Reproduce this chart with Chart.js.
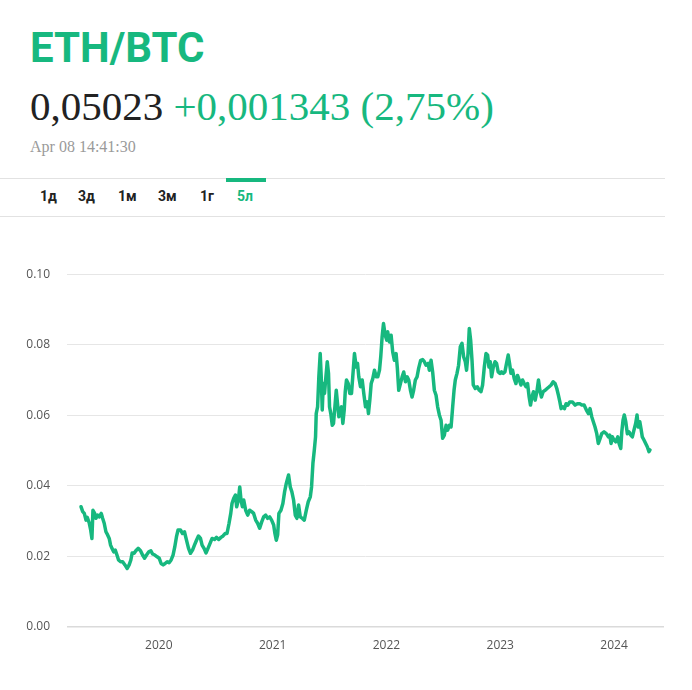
<!DOCTYPE html>
<html>
<head>
<meta charset="utf-8">
<script src="https://cdn.jsdelivr.net/npm/chart.js@4"></script>
<style>
  body { margin: 0; background: #fff; width: 692px; height: 690px; position: relative; overflow: hidden; }
  .abs { position: absolute; white-space: nowrap; }
  #title { left: 30px; top: 27px; font: bold 42px/42px Roboto, sans-serif; color: #17b87f; }
  #price { left: 30px; top: 86px; font: 41px/41px "Liberation Serif", serif; color: #222; }
  #price .chg { color: #17b87f; }
  #stamp { left: 30px; top: 139px; font: 16px/16px "Liberation Serif", serif; color: #9a9a9a; }
  .rule { position: absolute; left: 0; width: 665px; height: 1px; background: #e2e2e2; }
  .tab { position: absolute; top: 188px; font: bold 14px/16px Roboto, sans-serif; color: #222; }
  .tab.on { color: #17b87f; }
  #tabbar { position: absolute; left: 226px; top: 178px; width: 40px; height: 4px; background: #17b87f; }
  #wrap { position: absolute; left: 0; top: 250px; width: 692px; height: 420px; }
</style>
</head>
<body>
<div id="title" class="abs">ETH/BTC</div>
<div id="price" class="abs">0,05023 <span class="chg">+0,001343 (2,75%)</span></div>
<div id="stamp" class="abs">Apr 08 14:41:30</div>
<div class="rule" style="top:178px"></div>
<div class="rule" style="top:216px"></div>
<div id="tabbar"></div>
<span class="tab" style="left:40px">1д</span>
<span class="tab" style="left:78px">3д</span>
<span class="tab" style="left:118px">1м</span>
<span class="tab" style="left:158px">3м</span>
<span class="tab" style="left:200px">1г</span>
<span class="tab on" style="left:237px">5л</span>
<div id="wrap"><canvas id="chart" width="692" height="420"></canvas></div>
<script>
// ETH/BTC ratio over five years.
// times are decimal years, ratios are the ETH price in BTC at that moment.
const times = [
  2019.316, 2019.331, 2019.345, 2019.360, 2019.371, 2019.389, 2019.401, 2019.412, 2019.421, 2019.436,
  2019.447, 2019.462, 2019.476, 2019.494, 2019.506, 2019.520, 2019.535, 2019.550, 2019.564, 2019.576,
  2019.588, 2019.603, 2019.617, 2019.632, 2019.646, 2019.664, 2019.682, 2019.702, 2019.722, 2019.739,
  2019.754, 2019.766, 2019.783, 2019.798, 2019.818, 2019.839, 2019.857, 2019.875, 2019.892, 2019.912,
  2019.930, 2019.945, 2019.965, 2019.985, 2020.003, 2020.020, 2020.038, 2020.055, 2020.073, 2020.090,
  2020.108, 2020.125, 2020.140, 2020.155, 2020.169, 2020.190, 2020.208, 2020.225, 2020.243, 2020.261,
  2020.278, 2020.296, 2020.313, 2020.331, 2020.348, 2020.366, 2020.380, 2020.397, 2020.415, 2020.432,
  2020.450, 2020.468, 2020.489, 2020.506, 2020.526, 2020.546, 2020.564, 2020.582, 2020.599, 2020.617,
  2020.632, 2020.643, 2020.658, 2020.673, 2020.684, 2020.699, 2020.711, 2020.722, 2020.734, 2020.746,
  2020.763, 2020.781, 2020.798, 2020.816, 2020.833, 2020.851, 2020.868, 2020.886, 2020.904, 2020.921,
  2020.939, 2020.956, 2020.974, 2020.991, 2021.009, 2021.020, 2021.032, 2021.044, 2021.055, 2021.073,
  2021.090, 2021.105, 2021.120, 2021.140, 2021.155, 2021.169, 2021.184, 2021.199, 2021.213, 2021.228,
  2021.243, 2021.261, 2021.278, 2021.296, 2021.313, 2021.331, 2021.342, 2021.354, 2021.366, 2021.377,
  2021.383, 2021.395, 2021.406, 2021.418, 2021.427, 2021.436, 2021.445, 2021.456, 2021.468, 2021.480,
  2021.491, 2021.500, 2021.511, 2021.524, 2021.535, 2021.547, 2021.559, 2021.570, 2021.582, 2021.594,
  2021.605, 2021.617, 2021.629, 2021.638, 2021.649, 2021.664, 2021.678, 2021.693, 2021.704, 2021.719,
  2021.734, 2021.746, 2021.757, 2021.772, 2021.787, 2021.801, 2021.816, 2021.831, 2021.842, 2021.854,
  2021.866, 2021.880, 2021.895, 2021.910, 2021.924, 2021.939, 2021.950, 2021.962, 2021.974, 2021.989,
  2022.003, 2022.011, 2022.026, 2022.041, 2022.055, 2022.070, 2022.085, 2022.096, 2022.108, 2022.123,
  2022.138, 2022.152, 2022.167, 2022.182, 2022.196, 2022.211, 2022.225, 2022.239, 2022.254, 2022.269,
  2022.283, 2022.301, 2022.318, 2022.333, 2022.348, 2022.366, 2022.377, 2022.392, 2022.406, 2022.421,
  2022.436, 2022.450, 2022.465, 2022.480, 2022.494, 2022.509, 2022.524, 2022.538, 2022.553, 2022.568,
  2022.582, 2022.594, 2022.605, 2022.620, 2022.634, 2022.649, 2022.664, 2022.678, 2022.693, 2022.704,
  2022.717, 2022.728, 2022.740, 2022.752, 2022.763, 2022.781, 2022.798, 2022.816, 2022.831, 2022.845,
  2022.860, 2022.875, 2022.889, 2022.901, 2022.912, 2022.924, 2022.939, 2022.954, 2022.968, 2022.982,
  2022.997, 2023.011, 2023.026, 2023.041, 2023.055, 2023.070, 2023.082, 2023.094, 2023.108, 2023.123,
  2023.138, 2023.152, 2023.167, 2023.182, 2023.196, 2023.211, 2023.226, 2023.240, 2023.254, 2023.266,
  2023.278, 2023.292, 2023.307, 2023.322, 2023.336, 2023.348, 2023.362, 2023.377, 2023.395, 2023.412,
  2023.430, 2023.447, 2023.465, 2023.482, 2023.497, 2023.511, 2023.524, 2023.535, 2023.550, 2023.564,
  2023.579, 2023.594, 2023.611, 2023.634, 2023.658, 2023.678, 2023.699, 2023.717, 2023.737, 2023.757,
  2023.775, 2023.789, 2023.804, 2023.818, 2023.833, 2023.848, 2023.862, 2023.877, 2023.892, 2023.912,
  2023.932, 2023.950, 2023.962, 2023.974, 2023.985, 2024.000, 2024.015, 2024.033, 2024.044, 2024.059,
  2024.068, 2024.079, 2024.090, 2024.103, 2024.117, 2024.132, 2024.147, 2024.161, 2024.175, 2024.190,
  2024.202, 2024.213, 2024.226, 2024.237, 2024.248, 2024.263, 2024.278, 2024.292, 2024.307, 2024.316,
];
const ratios = [
  0.0341, 0.0327, 0.0322, 0.0303, 0.0311, 0.0294, 0.0275, 0.0251, 0.0331, 0.0322,
  0.0308, 0.0317, 0.0312, 0.0322, 0.0308, 0.0294, 0.0270, 0.0261, 0.0251, 0.0232,
  0.0223, 0.0213, 0.0218, 0.0204, 0.0190, 0.0185, 0.0185, 0.0176, 0.0166, 0.0176,
  0.0190, 0.0210, 0.0209, 0.0216, 0.0223, 0.0216, 0.0204, 0.0195, 0.0204, 0.0213,
  0.0216, 0.0207, 0.0204, 0.0199, 0.0195, 0.0180, 0.0176, 0.0180, 0.0185, 0.0182,
  0.0190, 0.0204, 0.0227, 0.0256, 0.0275, 0.0275, 0.0265, 0.0270, 0.0246, 0.0223,
  0.0209, 0.0218, 0.0232, 0.0246, 0.0258, 0.0251, 0.0232, 0.0223, 0.0210, 0.0223,
  0.0237, 0.0251, 0.0248, 0.0254, 0.0248, 0.0254, 0.0258, 0.0265, 0.0265, 0.0294,
  0.0322, 0.0350, 0.0365, 0.0374, 0.0341, 0.0360, 0.0397, 0.0360, 0.0341, 0.0360,
  0.0331, 0.0317, 0.0331, 0.0327, 0.0322, 0.0303, 0.0294, 0.0280, 0.0298, 0.0312,
  0.0317, 0.0308, 0.0312, 0.0303, 0.0289, 0.0265, 0.0246, 0.0261, 0.0322, 0.0331,
  0.0350, 0.0383, 0.0407, 0.0431, 0.0397, 0.0383, 0.0360, 0.0317, 0.0308, 0.0346,
  0.0312, 0.0308, 0.0303, 0.0331, 0.0355, 0.0369, 0.0397, 0.0464, 0.0501, 0.0539,
  0.0605, 0.0624, 0.0709, 0.0775, 0.0709, 0.0615, 0.0690, 0.0662, 0.0709, 0.0752,
  0.0719, 0.0624, 0.0605, 0.0572, 0.0577, 0.0624, 0.0671, 0.0634, 0.0596, 0.0615,
  0.0624, 0.0577, 0.0615, 0.0667, 0.0700, 0.0690, 0.0662, 0.0662, 0.0709, 0.0775,
  0.0737, 0.0747, 0.0709, 0.0681, 0.0700, 0.0662, 0.0624, 0.0638, 0.0605, 0.0643,
  0.0690, 0.0704, 0.0728, 0.0709, 0.0709, 0.0728, 0.0766, 0.0822, 0.0860, 0.0827,
  0.0813, 0.0837, 0.0808, 0.0827, 0.0780, 0.0756, 0.0775, 0.0733, 0.0671, 0.0690,
  0.0709, 0.0723, 0.0695, 0.0709, 0.0700, 0.0671, 0.0652, 0.0671, 0.0700, 0.0709,
  0.0733, 0.0756, 0.0758, 0.0752, 0.0742, 0.0747, 0.0728, 0.0756, 0.0723, 0.0671,
  0.0657, 0.0624, 0.0601, 0.0586, 0.0535, 0.0544, 0.0572, 0.0558, 0.0572, 0.0567,
  0.0624, 0.0671, 0.0700, 0.0719, 0.0742, 0.0794, 0.0804, 0.0766, 0.0752, 0.0728,
  0.0775, 0.0846, 0.0813, 0.0756, 0.0686, 0.0676, 0.0681, 0.0671, 0.0667, 0.0686,
  0.0737, 0.0775, 0.0771, 0.0737, 0.0752, 0.0709, 0.0737, 0.0752, 0.0747, 0.0723,
  0.0719, 0.0723, 0.0719, 0.0723, 0.0747, 0.0771, 0.0747, 0.0719, 0.0728, 0.0704,
  0.0690, 0.0713, 0.0700, 0.0686, 0.0700, 0.0690, 0.0681, 0.0690, 0.0652, 0.0629,
  0.0652, 0.0667, 0.0643, 0.0667, 0.0700, 0.0671, 0.0652, 0.0667, 0.0671, 0.0676,
  0.0681, 0.0686, 0.0695, 0.0690, 0.0676, 0.0657, 0.0638, 0.0619, 0.0624, 0.0619,
  0.0633, 0.0629, 0.0638, 0.0638, 0.0629, 0.0633, 0.0633, 0.0629, 0.0629, 0.0615,
  0.0605, 0.0619, 0.0596, 0.0582, 0.0567, 0.0548, 0.0520, 0.0534, 0.0548, 0.0553,
  0.0548, 0.0539, 0.0544, 0.0520, 0.0539, 0.0530, 0.0525, 0.0539, 0.0520, 0.0506,
  0.0553, 0.0586, 0.0601, 0.0582, 0.0548, 0.0553, 0.0544, 0.0539, 0.0558, 0.0577,
  0.0601, 0.0567, 0.0582, 0.0562, 0.0539, 0.0530, 0.0520, 0.0511, 0.0497, 0.0502,
];
const yearTicks = [2020, 2021, 2022, 2023, 2024];
const yTicks = [0, 0.02, 0.04, 0.06, 0.08, 0.1];

const GREEN = "#17b87f";
const tickFont = { family: "'Open Sans', sans-serif", size: 12 };

new Chart(document.getElementById("chart"), {
  type: "line",
  data: {
    datasets: [{
      data: times.map((t, i) => ({ x: t, y: ratios[i] })),
      borderColor: GREEN,
      borderWidth: 3.5,
      pointRadius: 0,
      tension: 0,
      borderJoinStyle: "round",
      borderCapStyle: "round",
    }],
  },
  options: {
    responsive: false,
    animation: false,
    layout: { padding: { top: 24, right: 28, left: 0, bottom: 0 } },
    plugins: { legend: { display: false }, tooltip: { enabled: false } },
    scales: {
      x: {
        type: "linear",
        min: 2019.193,
        max: 2024.439,
        grid: { display: false, drawTicks: false },
        border: { display: false },
        afterBuildTicks: (scale) => { scale.ticks = yearTicks.map((v) => ({ value: v })); },
        afterFit: (scale) => { scale.height = 43; },
        ticks: { color: "#555", font: tickFont, padding: 11, maxRotation: 0, callback: (v) => String(v) },
      },
      y: {
        min: 0,
        max: 0.1,
        grid: {
          // the zero line is a touch darker than the rest
          color: (ctx) => (ctx.tick && ctx.tick.value === 0 ? "#dadada" : "#e6e6e6"),
          lineWidth: (ctx) => (ctx.tick && ctx.tick.value === 0 ? 1.5 : 1),
          drawTicks: false,
        },
        border: { display: false },
        afterBuildTicks: (scale) => { scale.ticks = yTicks.map((v) => ({ value: v })); },
        afterFit: (scale) => { scale.width = 67; },
        ticks: { color: "#555", font: tickFont, padding: 17, callback: (v) => v.toFixed(2) },
      },
    },
  },
});
</script>
</body>
</html>
